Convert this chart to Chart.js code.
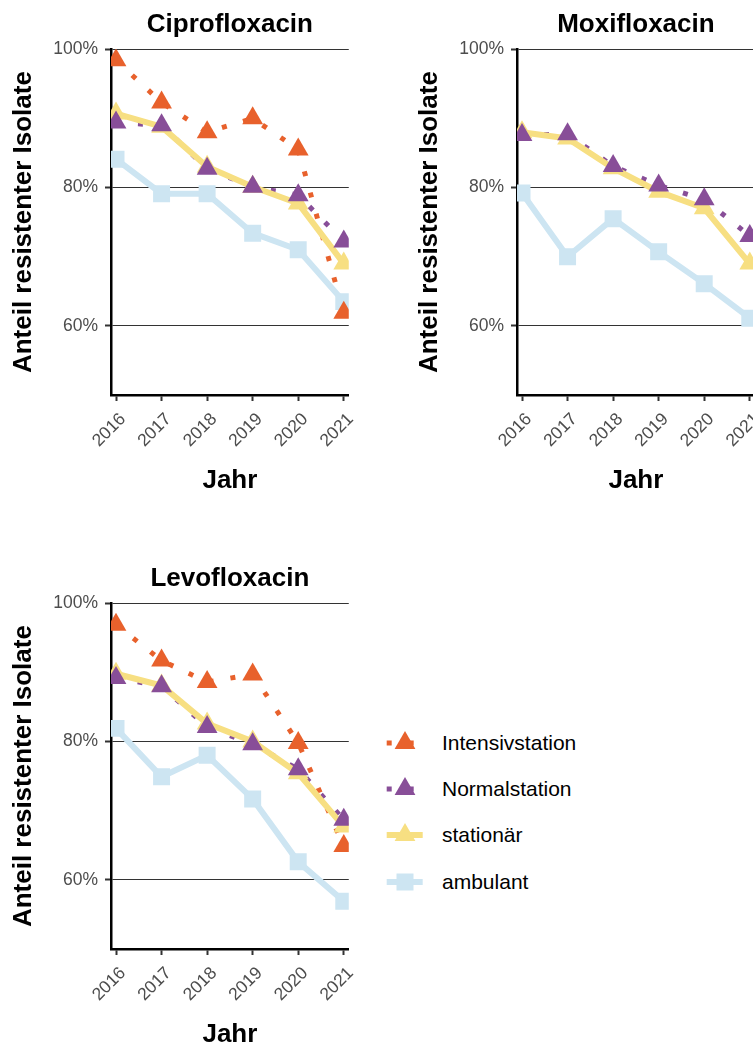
<!DOCTYPE html>
<html>
<head>
<meta charset="utf-8">
<script src="https://cdn.jsdelivr.net/npm/chart.js@4.4.1/dist/chart.umd.min.js"></script>
<style>
  html, body { margin: 0; padding: 0; background: #fff; overflow: hidden; }
  body { width: 753px; height: 1046px; position: relative; font-family: 'Liberation Sans', Arial, sans-serif; }
  canvas { position: absolute; }
  .key { position: absolute; left: 383px; height: 26px; display: flex; align-items: center; }
  .key span { font-size: 21px; color: #000; margin-left: 17px; }
</style>
</head>
<body>
<canvas id="cipro" width="367" height="500" style="left:0;top:0"></canvas>
<canvas id="moxi" width="367" height="500" style="left:406px;top:0"></canvas>
<canvas id="levo" width="367" height="500" style="left:0;top:554px"></canvas>
<div id="legend"></div>
<script>
// Years and resistance shares (%) per care setting
const years = [2016, 2017, 2018, 2019, 2020, 2021];
const yTicks = [60, 80, 100];

const ciproIntensiv   = [98.4, 92.3, 88.0, 90.0, 85.5, 61.9];
const ciproNormal     = [89.4, 89.0, 82.7, 80.1, 78.9, 72.2];
const ciproStationaer = [90.7, 88.8, 83.0, 80.1, 77.7, 69.0];
const ciproAmbulant   = [84.1, 79.1, 79.1, 73.4, 71.0, 63.5];

const moxiNormal      = [87.6, 87.7, 83.1, 80.3, 78.3, 73.0];
const moxiStationaer  = [88.0, 87.1, 82.8, 79.4, 77.0, 69.0];
const moxiAmbulant    = [79.2, 70.0, 75.5, 70.7, 66.1, 61.1];

const levoIntensiv    = [96.9, 91.7, 88.6, 89.7, 79.8, 64.9];
const levoNormal      = [89.2, 88.0, 82.1, 79.6, 76.0, 68.7];
const levoStationaer  = [89.8, 88.1, 82.6, 80.0, 75.4, 67.7];
const levoAmbulant    = [81.9, 74.9, 78.0, 71.7, 62.6, 56.9];

const groups = [
  { label: 'Intensivstation', color: '#E8612C', dash: [5, 17], point: 'triangle' },
  { label: 'Normalstation',   color: '#884E98', dash: [5, 17], point: 'triangle' },
  { label: 'stationär',       color: '#F7DF82', dash: [],      point: 'triangle' },
  { label: 'ambulant',        color: '#CDE5F2', dash: [],      point: 'rect' }
];

Chart.defaults.font.family = "'Liberation Sans', Arial, sans-serif";

const toPoints = vals => years.map((x, i) => ({ x: x, y: vals[i] }));

// points on top of all lines; first dataset is drawn top-most
function buildDatasets(values) {
  const pts = [], lines = [];
  groups.forEach((g, i) => {
    if (!values[i]) return;
    pts.push({
      label: g.label, data: toPoints(values[i]), showLine: false,
      pointStyle: g.point, pointRadius: 12, pointBackgroundColor: g.color,
      pointBorderColor: g.color, pointBorderWidth: 0, clip: 0
    });
    lines.unshift({
      label: g.label, data: toPoints(values[i]), pointRadius: 0,
      borderColor: g.color, borderWidth: g.dash.length ? 5 : 6, borderDash: g.dash,
      borderCapStyle: 'butt', tension: 0, clip: 0
    });
  });
  return pts.concat(lines);
}

const axisTitleFont = { size: 26, weight: 'bold' };

function makeChart(id, title, values) {
  new Chart(document.getElementById(id), {
    type: 'line',
    data: { datasets: buildDatasets(values) },
    options: {
      responsive: false,
      animation: false,
      devicePixelRatio: 1,
      layout: { padding: { left: 0, right: 12, top: 0, bottom: 0 } },
      plugins: {
        legend: { display: false },
        tooltip: { enabled: false },
        title: {
          display: true, text: title, color: '#000', fullSize: false,
          font: { size: 26, weight: 'bold' }, padding: { top: 9, bottom: 9 }
        }
      },
      scales: {
        x: {
          type: 'linear', min: 2015.89, max: 2021.11,
          afterBuildTicks: s => { s.ticks = years.map(v => ({ value: v })); },
          afterFit: s => { s.height = 105; },
          ticks: {
            autoSkip: false, minRotation: 45, maxRotation: 45, padding: 8, labelOffset: 7,
            color: '#4D4D4D', font: { size: 17.5 }, callback: v => String(v)
          },
          grid: { drawOnChartArea: false, tickLength: 6, tickColor: '#333', tickWidth: 2 },
          border: { display: true, color: '#000', width: 2.5 },
          title: { display: true, text: 'Jahr', color: '#000', font: axisTitleFont, padding: { top: 0, bottom: 4 } }
        },
        y: {
          min: 50, max: 100,
          afterBuildTicks: s => { s.ticks = yTicks.map(v => ({ value: v })); },
          afterFit: s => { s.width = 111; },
          ticks: { padding: 7, color: '#4D4D4D', font: { size: 17.5 }, callback: v => v + '%' },
          grid: { color: '#333', lineWidth: 1, tickLength: 6, tickColor: '#333', tickWidth: 2 },
          border: { display: true, color: '#000', width: 2.5 },
          title: {
            display: true, text: 'Anteil resistenter Isolate', color: '#000',
            font: axisTitleFont, padding: { top: 8, bottom: 0 }
          }
        }
      }
    }
  });
}

makeChart('cipro', 'Ciprofloxacin', [ciproIntensiv, ciproNormal, ciproStationaer, ciproAmbulant]);
makeChart('moxi', 'Moxifloxacin', [null, moxiNormal, moxiStationaer, moxiAmbulant]);
makeChart('levo', 'Levofloxacin', [levoIntensiv, levoNormal, levoStationaer, levoAmbulant]);

// shared legend
const keyRows = [743, 789, 835, 882];
const legend = document.getElementById('legend');
groups.forEach((g, i) => {
  const row = document.createElement('div');
  row.className = 'key';
  row.style.top = (keyRows[i] - 13) + 'px';
  const dash = g.dash.length ? ` stroke-dasharray="${g.dash.join(' ')}"` : '';
  const sw = g.dash.length ? 5 : 6;
  const mark = g.point === 'rect'
    ? `<rect x="13.5" y="4.5" width="17" height="17" fill="${g.color}"/>`
    : `<polygon points="22,1 11.6,19 32.4,19" fill="${g.color}"/>`;
  row.innerHTML =
    `<svg width="42" height="26"><line x1="3.7" y1="13" x2="39.7" y2="13" stroke="${g.color}" stroke-width="${sw}"${dash}/>${mark}</svg>` +
    `<span>${g.label}</span>`;
  legend.appendChild(row);
});
</script>
</body>
</html>
